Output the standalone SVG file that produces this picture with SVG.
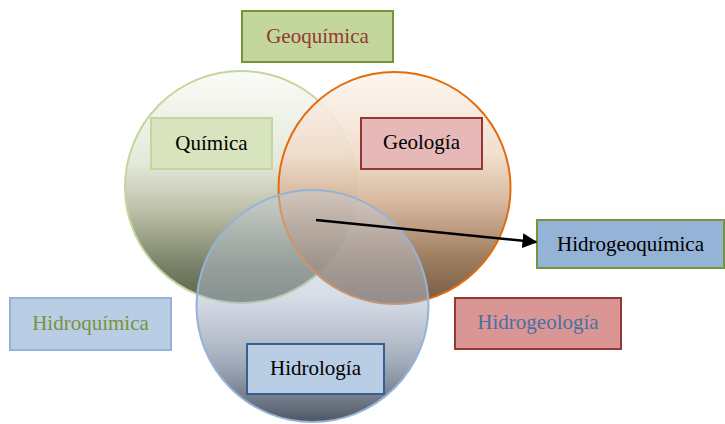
<svg xmlns="http://www.w3.org/2000/svg" width="725" height="424" viewBox="0 0 725 424">
<defs>
<linearGradient id="gGreen" x1="0" y1="0" x2="0" y2="1">
<stop offset="0" stop-color="#f9fbf6"/>
<stop offset="0.4" stop-color="#e3e7d8"/>
<stop offset="0.6" stop-color="#b8bca3"/>
<stop offset="0.85" stop-color="#70775e"/>
<stop offset="1" stop-color="#535c44"/>
</linearGradient>
<linearGradient id="gOrange" x1="0" y1="0" x2="0" y2="1">
<stop offset="0" stop-color="#fdf5ee"/>
<stop offset="0.35" stop-color="#f0dccb"/>
<stop offset="0.55" stop-color="#d6b498"/>
<stop offset="0.8" stop-color="#94704f"/>
<stop offset="1" stop-color="#664830"/>
</linearGradient>
<linearGradient id="gBlue" x1="0" y1="0" x2="0" y2="1">
<stop offset="0" stop-color="#c3cddc" stop-opacity="0.4"/>
<stop offset="0.45" stop-color="#b1bdd1" stop-opacity="0.5"/>
<stop offset="0.75" stop-color="#8f9aab" stop-opacity="0.85"/>
<stop offset="1" stop-color="#4d5764"/>
</linearGradient>
<marker id="arrow" viewBox="0 0 10 10" refX="9" refY="5" markerWidth="6" markerHeight="6" orient="auto" markerUnits="strokeWidth">
<path d="M0,0 L10,5 L0,10 z" fill="#000"/>
</marker>
<style>
.lbl{font-family:"Liberation Serif","Times New Roman",serif;font-size:21px;text-anchor:middle}
.box{stroke-width:2}
</style>
</defs>
<g id="circle-quimica"><circle cx="241" cy="187" r="116" fill="url(#gGreen)" fill-opacity="0.95" stroke="#c3d69b" stroke-width="2"/></g>
<g id="circle-geologia"><circle cx="394.5" cy="188" r="116" fill="url(#gOrange)" fill-opacity="0.9" stroke="#e46c0a" stroke-width="2"/></g>
<g id="circle-hidrologia"><circle cx="312.5" cy="306" r="116" fill="url(#gBlue)" stroke="#95b3d7" stroke-width="2"/></g>
<g id="geoquimica"><rect class="box" x="242" y="11" width="151" height="51" fill="#c3d69b" stroke="#77933c"/><text class="lbl" x="317.5" y="43" fill="#953735">Geoquímica</text></g>
<g id="quimica"><rect class="box" x="151" y="118" width="121" height="51" fill="#d7e4bd" stroke="#c3d69b"/><text class="lbl" x="211.5" y="150" fill="#000">Química</text></g>
<g id="geologia"><rect class="box" x="361" y="118" width="121" height="51" fill="#e6b9b8" stroke="#953735"/><text class="lbl" x="421.5" y="149" fill="#000">Geología</text></g>
<g id="hidrologia"><rect class="box" x="247" y="344" width="137" height="50" fill="#b9cde5" stroke="#376092"/><text class="lbl" x="315.5" y="375" fill="#000">Hidrología</text></g>
<g id="hidroquimica"><rect class="box" x="10" y="298" width="161" height="52" fill="#b9cde5" stroke="#95b3d7"/><text class="lbl" x="90.5" y="330" fill="#77933c">Hidroquímica</text></g>
<g id="hidrogeoquimica"><rect class="box" x="537" y="220" width="187" height="48" fill="#95b3d7" stroke="#77933c"/><text class="lbl" x="630.5" y="251" fill="#000">Hidrogeoquímica</text></g>
<g id="hidrogeologia"><rect class="box" x="455" y="298" width="166" height="51" fill="#d99694" stroke="#953735"/><text class="lbl" x="538" y="329" fill="#4a6fa5">Hidrogeología</text></g>
<g id="connectors"><line x1="316" y1="220" x2="536" y2="242" stroke="#000" stroke-width="2.5" marker-end="url(#arrow)"/></g>
</svg>
